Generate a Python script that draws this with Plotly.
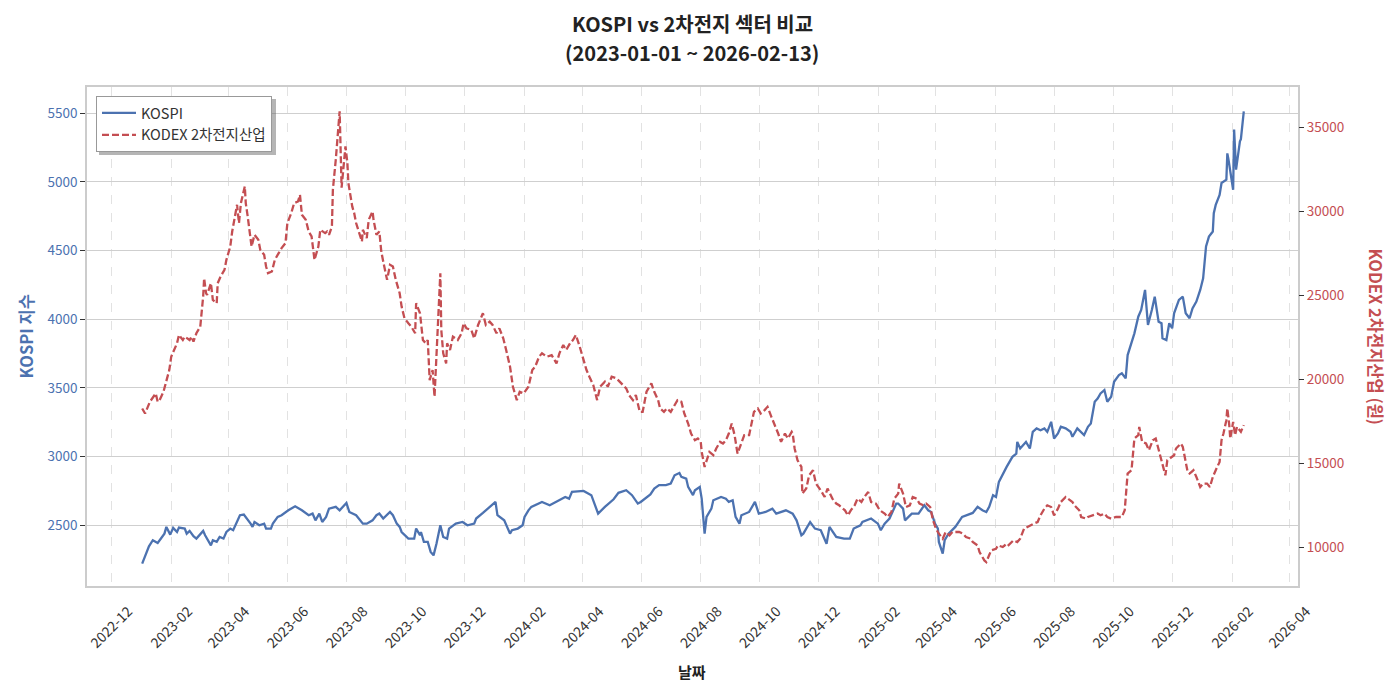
import plotly.graph_objects as go

# ---------------- data ----------------
kospi_dates = [
    "2023-01-02","2023-01-06","2023-01-09","2023-01-13","2023-01-18","2023-01-25","2023-01-27","2023-01-31",
    "2023-02-03","2023-02-07","2023-02-09","2023-02-15","2023-02-17","2023-02-20","2023-02-24","2023-02-27",
    "2023-03-06","2023-03-08","2023-03-10","2023-03-14","2023-03-16","2023-03-20","2023-03-23","2023-03-27",
    "2023-03-30","2023-04-03","2023-04-06","2023-04-10","2023-04-13","2023-04-17","2023-04-19","2023-04-24",
    "2023-04-26","2023-04-28","2023-05-03","2023-05-08","2023-05-10","2023-05-15","2023-05-17","2023-05-22",
    "2023-05-26","2023-06-02","2023-06-09","2023-06-16","2023-06-23","2023-06-27","2023-06-30","2023-07-04",
    "2023-07-07","2023-07-11","2023-07-14","2023-07-21","2023-07-25","2023-08-01","2023-08-04","2023-08-11",
    "2023-08-18","2023-08-22","2023-08-28","2023-08-30","2023-09-01","2023-09-04","2023-09-08","2023-09-15",
    "2023-09-18","2023-09-22","2023-09-25","2023-09-27","2023-10-04","2023-10-10","2023-10-12","2023-10-16",
    "2023-10-17","2023-10-20","2023-10-24","2023-10-27","2023-10-30","2023-11-02","2023-11-06","2023-11-09",
    "2023-11-13","2023-11-15","2023-11-22","2023-11-29","2023-12-04","2023-12-11","2023-12-13","2023-12-20",
    "2023-12-27","2024-01-02","2024-01-04","2024-01-11","2024-01-17","2024-01-19","2024-01-25","2024-01-30",
    "2024-02-01","2024-02-05","2024-02-08","2024-02-19","2024-02-27","2024-03-05","2024-03-14","2024-03-18",
    "2024-03-21","2024-04-02","2024-04-10","2024-04-17","2024-04-24","2024-05-03","2024-05-08","2024-05-16",
    "2024-05-22","2024-05-28","2024-05-31","2024-06-10","2024-06-14","2024-06-19","2024-06-26","2024-07-01",
    "2024-07-05","2024-07-10","2024-07-12","2024-07-17","2024-07-19","2024-07-24","2024-07-26","2024-07-31",
    "2024-08-02","2024-08-05","2024-08-07","2024-08-12","2024-08-14","2024-08-22","2024-08-27","2024-08-30",
    "2024-09-03","2024-09-06","2024-09-10","2024-09-12","2024-09-20","2024-09-26","2024-09-30","2024-10-07",
    "2024-10-14","2024-10-18","2024-10-28","2024-11-04","2024-11-08","2024-11-13","2024-11-15","2024-11-22",
    "2024-11-27","2024-12-03","2024-12-09","2024-12-12","2024-12-19","2024-12-27","2025-01-02","2025-01-06",
    "2025-01-13","2025-01-15","2025-01-24","2025-01-31","2025-02-03","2025-02-07","2025-02-12","2025-02-19",
    "2025-02-21","2025-02-26","2025-02-28","2025-03-07","2025-03-14","2025-03-20","2025-03-24","2025-03-27",
    "2025-03-31","2025-04-03","2025-04-04","2025-04-08","2025-04-10","2025-04-14","2025-04-21","2025-04-28",
    "2025-05-02","2025-05-09","2025-05-14","2025-05-19","2025-05-23","2025-05-26","2025-05-30","2025-06-02",
    "2025-06-05","2025-06-11","2025-06-13","2025-06-19","2025-06-23","2025-06-24","2025-06-27","2025-07-03",
    "2025-07-07","2025-07-10","2025-07-14","2025-07-18","2025-07-22","2025-07-25","2025-07-29","2025-08-01",
    "2025-08-05","2025-08-08","2025-08-13","2025-08-18","2025-08-20","2025-08-25","2025-08-29","2025-09-01",
    "2025-09-05","2025-09-08","2025-09-12","2025-09-15","2025-09-18","2025-09-22","2025-09-25","2025-09-29",
    "2025-10-02","2025-10-07","2025-10-10","2025-10-14","2025-10-16","2025-10-20","2025-10-23","2025-10-27",
    "2025-10-30","2025-11-03","2025-11-06","2025-11-10","2025-11-13","2025-11-17","2025-11-20","2025-11-21",
    "2025-11-25","2025-11-28","2025-12-01","2025-12-03","2025-12-08","2025-12-12","2025-12-15","2025-12-19",
    "2025-12-22","2025-12-26","2025-12-30","2026-01-02","2026-01-05","2026-01-08","2026-01-12","2026-01-13",
    "2026-01-15","2026-01-19","2026-01-21","2026-01-26","2026-01-27","2026-01-28","2026-02-02","2026-02-03",
    "2026-02-05","2026-02-09","2026-02-10","2026-02-13",
]
kospi_values = [
    2221,2294,2347,2391,2371,2439,2488,2432,
    2481,2451,2483,2476,2439,2459,2420,2403,
    2459,2427,2403,2354,2391,2379,2415,2403,
    2451,2476,2464,2524,2573,2578,2561,2512,
    2488,2524,2500,2512,2476,2476,2512,2561,
    2573,2609,2638,2609,2573,2585,2536,2585,
    2524,2561,2621,2634,2609,2663,2597,2573,
    2512,2512,2536,2553,2573,2585,2549,2597,
    2573,2512,2488,2451,2403,2403,2476,2427,
    2451,2379,2379,2306,2281,2366,2500,2415,
    2403,2476,2512,2524,2500,2512,2549,2590,
    2634,2670,2573,2536,2439,2464,2476,2500,
    2561,2609,2634,2670,2646,2670,2706,2694,
    2743,2750,2719,2585,2634,2689,2736,2755,
    2719,2658,2670,2725,2767,2792,2792,2804,
    2864,2881,2852,2840,2779,2719,2755,2779,
    2694,2439,2561,2621,2682,2706,2694,2670,
    2682,2561,2512,2573,2597,2670,2585,2597,
    2621,2585,2609,2585,2536,2427,2439,2524,
    2476,2464,2366,2488,2415,2403,2403,2476,
    2500,2524,2549,2512,2464,2512,2549,2658,
    2658,2621,2536,2585,2585,2646,2609,2597,
    2512,2476,2379,2294,2391,2439,2488,2561,
    2573,2590,2634,2609,2597,2634,2719,2706,
    2816,2901,2925,2998,3022,3107,3059,3107,
    3059,3180,3205,3192,3205,3180,3253,3132,
    3168,3217,3205,3180,3144,3205,3180,3156,
    3217,3241,3399,3423,3460,3484,3399,3435,
    3545,3593,3606,3569,3739,3824,3897,4018,
    4067,4213,3958,4067,4164,3982,3970,3861,
    3848,3970,3934,4043,4140,4164,4043,4007,
    4079,4128,4213,4298,4529,4601,4638,4772,
    4832,4905,4991,5015,5207,5170,4942,5380,
    5088,5294,5310,5513,
]

kodex_dates = [
    "2023-01-02","2023-01-05","2023-01-10","2023-01-16","2023-01-18","2023-01-20","2023-01-24","2023-01-26",
    "2023-01-30","2023-02-01","2023-02-03","2023-02-07","2023-02-09","2023-02-13","2023-02-15","2023-02-20",
    "2023-02-22","2023-02-24","2023-02-27","2023-03-03","2023-03-06","2023-03-07","2023-03-09","2023-03-10",
    "2023-03-14","2023-03-16","2023-03-20","2023-03-21","2023-03-24","2023-03-28","2023-03-30","2023-04-03",
    "2023-04-05","2023-04-07","2023-04-10","2023-04-12","2023-04-14","2023-04-18","2023-04-19","2023-04-21",
    "2023-04-25","2023-04-28","2023-05-02","2023-05-04","2023-05-08","2023-05-10","2023-05-12","2023-05-16",
    "2023-05-19","2023-05-23","2023-05-26","2023-05-30","2023-06-01","2023-06-05","2023-06-08","2023-06-12",
    "2023-06-14","2023-06-16","2023-06-20","2023-06-23","2023-06-26","2023-06-29","2023-07-03","2023-07-05",
    "2023-07-10","2023-07-12","2023-07-14","2023-07-17","2023-07-18","2023-07-21","2023-07-25","2023-07-27",
    "2023-07-31","2023-08-02","2023-08-03","2023-08-07","2023-08-09","2023-08-11","2023-08-14","2023-08-17",
    "2023-08-18","2023-08-22","2023-08-24","2023-08-28","2023-08-29","2023-09-01","2023-09-04","2023-09-06",
    "2023-09-08","2023-09-12","2023-09-15","2023-09-18","2023-09-21","2023-09-25","2023-09-27","2023-09-30",
    "2023-10-04","2023-10-07","2023-10-11","2023-10-12","2023-10-16","2023-10-19","2023-10-22","2023-10-24",
    "2023-10-26","2023-10-29","2023-10-31","2023-11-01","2023-11-03","2023-11-06","2023-11-07","2023-11-09",
    "2023-11-12","2023-11-13","2023-11-16","2023-11-19","2023-11-24","2023-11-28","2023-11-30","2023-12-03",
    "2023-12-08","2023-12-11","2023-12-15","2023-12-20","2023-12-23","2023-12-27","2023-12-30","2024-01-03",
    "2024-01-06","2024-01-10","2024-01-13","2024-01-17","2024-01-20","2024-01-24","2024-01-27","2024-01-31",
    "2024-02-05","2024-02-09","2024-02-12","2024-02-16","2024-02-19","2024-02-24","2024-02-29","2024-03-05",
    "2024-03-08","2024-03-12","2024-03-15","2024-03-19","2024-03-22","2024-03-25","2024-03-29","2024-04-01",
    "2024-04-05","2024-04-08","2024-04-12","2024-04-16","2024-04-19","2024-04-24","2024-04-27","2024-05-01",
    "2024-05-06","2024-05-11","2024-05-16","2024-05-19","2024-05-23","2024-05-26","2024-05-30","2024-06-02",
    "2024-06-06","2024-06-11","2024-06-14","2024-06-18","2024-06-20","2024-06-24","2024-06-27","2024-07-01",
    "2024-07-05","2024-07-08","2024-07-12","2024-07-15","2024-07-19","2024-07-22","2024-07-26","2024-07-29",
    "2024-08-01","2024-08-02","2024-08-05","2024-08-07","2024-08-10","2024-08-14","2024-08-17","2024-08-21",
    "2024-08-24","2024-08-27","2024-08-30","2024-09-02","2024-09-05","2024-09-08","2024-09-10","2024-09-15",
    "2024-09-20","2024-09-24","2024-09-25","2024-09-29","2024-10-02","2024-10-06","2024-10-09","2024-10-13",
    "2024-10-16","2024-10-20","2024-10-23","2024-10-27","2024-10-30","2024-11-03","2024-11-04","2024-11-06",
    "2024-11-09","2024-11-13","2024-11-14","2024-11-18","2024-11-21","2024-11-25","2024-11-28","2024-12-03",
    "2024-12-07","2024-12-10","2024-12-15","2024-12-19","2024-12-22","2024-12-28","2024-12-31","2025-01-03",
    "2025-01-07","2025-01-10","2025-01-14","2025-01-17","2025-01-21","2025-01-24","2025-01-29","2025-02-02",
    "2025-02-07","2025-02-10","2025-02-14","2025-02-17","2025-02-21","2025-02-22","2025-02-26","2025-03-01",
    "2025-03-05","2025-03-08","2025-03-12","2025-03-15","2025-03-19","2025-03-22","2025-03-26","2025-03-29",
    "2025-04-01","2025-04-04","2025-04-08","2025-04-11","2025-04-15","2025-04-18","2025-04-25","2025-04-29",
    "2025-05-02","2025-05-07","2025-05-09","2025-05-14","2025-05-16","2025-05-21","2025-05-23","2025-05-28",
    "2025-06-02","2025-06-04","2025-06-09","2025-06-11","2025-06-13","2025-06-18","2025-06-20","2025-06-24",
    "2025-06-27","2025-07-01","2025-07-04","2025-07-08","2025-07-11","2025-07-15","2025-07-18","2025-07-22",
    "2025-07-25","2025-07-29","2025-08-01","2025-08-05","2025-08-08","2025-08-13","2025-08-18","2025-08-20",
    "2025-08-22","2025-08-27","2025-08-29","2025-09-03","2025-09-05","2025-09-10","2025-09-15","2025-09-18",
    "2025-09-22","2025-09-25","2025-09-29","2025-10-04","2025-10-10","2025-10-13","2025-10-16","2025-10-20",
    "2025-10-23","2025-10-27","2025-10-28","2025-10-31","2025-11-04","2025-11-07","2025-11-11","2025-11-14",
    "2025-11-18","2025-11-21","2025-11-24","2025-11-26","2025-11-30","2025-12-03","2025-12-05","2025-12-10",
    "2025-12-12","2025-12-17","2025-12-19","2025-12-23","2025-12-26","2025-12-30","2026-01-02","2026-01-06",
    "2026-01-09","2026-01-12","2026-01-15","2026-01-19","2026-01-21","2026-01-23","2026-01-26","2026-01-27",
    "2026-01-29","2026-01-30","2026-02-02","2026-02-04","2026-02-06","2026-02-10","2026-02-13",
]
kodex_values = [
    18274,17975,18672,19170,18672,18771,19269,19766,
    20562,21357,21655,22154,22650,22352,22551,22352,
    22551,22253,22752,23145,24935,26033,25138,25037,
    25735,24739,24541,25735,26129,26528,27125,27919,
    28814,29512,30407,29315,30508,31500,30508,29710,
    27919,28619,28321,27722,27424,26727,26331,26429,
    27125,27525,27823,28121,29315,29911,30508,30604,
    31002,29810,29512,28814,28517,27125,27919,28915,
    28718,28814,28619,29112,31302,33094,35974,31422,
    33886,32896,31700,30306,29911,29315,28814,28217,
    28915,28420,29512,30008,29512,28617,28814,27622,
    27025,25932,26827,26727,25932,25138,24341,23645,
    23348,23147,22752,24541,23944,22352,22154,22352,
    19965,20562,18970,20364,22752,26331,22949,21558,
    20961,22154,21755,22549,22352,22752,23348,23049,
    22949,22453,23247,23944,23247,23445,23247,22752,
    23049,22453,21755,20760,19565,18771,19269,19170,
    19565,20562,20760,21357,21558,21357,21456,20961,
    21558,22053,21755,22154,22352,22650,21952,21357,
    20562,20162,19667,18771,19565,19865,19565,20162,
    20066,19768,19470,19070,18771,19070,18073,18073,
    19268,19765,19268,18771,18274,18073,18274,18073,
    18473,18771,18672,17975,17378,16781,16385,16484,
    16283,15687,14792,15191,15687,15490,15889,16283,
    16188,16385,16781,17378,16683,15591,15889,16683,
    16683,17775,18073,18274,17975,18175,18372,17775,
    17378,16781,16283,16781,16484,16880,16781,15889,
    15191,14792,13204,13503,14296,14594,13801,13401,
    13001,13503,12906,12608,12506,12208,11909,12208,
    12506,12906,12703,13001,13300,12703,12608,12208,
    12011,11808,12106,12906,13204,13801,13204,12405,
    12506,13001,12906,12608,12506,12608,12405,11611,
    11116,10815,10517,10915,10716,10915,10915,10815,
    10617,10517,10318,10119,9721,9224,9125,9821,
    9920,10119,10020,10119,10020,10318,10418,10318,
    10517,11114,11213,11313,11414,11510,11909,12309,
    12506,12405,11909,12309,12703,13001,12804,12703,
    12506,12208,11810,11713,11810,11909,12011,11909,
    12011,11810,11713,11810,11810,12208,14398,14594,
    16484,16683,17178,16283,16188,15788,16385,16484,
    15591,14792,14296,15191,15389,15490,15889,16188,
    15984,14493,14398,14594,14195,13598,13801,13801,
    13598,14195,14594,15090,16385,16781,17578,18276,
    17280,16484,17478,16683,17178,16883,17280,
]

left_ticks = [2500, 3000, 3500, 4000, 4500, 5000, 5500]
right_ticks = [10000, 15000, 20000, 25000, 30000, 35000]
right_ticktext = [str(v) for v in right_ticks]

title_lines = ["KOSPI vs 2차전지 섹터 비교", "(2023-01-01 ~ 2026-02-13)"]

# ---------------- style ----------------
FONT = "Noto Sans CJK KR"
BLUE = "#4C72B0"
RED = "#C44E52"
W, H = 1400, 700
L, R, T, B = 87, 102, 87, 114
PW, PH = W - L - R, H - T - B


def px_x(px):
    return (px - L) / PW


def px_y(py):
    return 1 - (py - T) / PH


fig = go.Figure()
fig.add_trace(go.Scatter(
    x=kospi_dates, y=kospi_values, name="KOSPI", mode="lines",
    line=dict(color=BLUE, width=2.3), yaxis="y"))
fig.add_trace(go.Scatter(
    x=kodex_dates, y=kodex_values, name="KODEX 2차전지산업", mode="lines",
    line=dict(color=RED, width=2.3, dash="7px,3px"), yaxis="y2"))

annotations = [
    dict(text="<b>%s</b>" % title_lines[0], xref="paper", yref="paper",
         x=px_x(692), y=px_y(23.5), showarrow=False, xanchor="center", yanchor="middle",
         font=dict(family=FONT, size=20, color="#222222")),
    dict(text="<b>%s</b>" % title_lines[1], xref="paper", yref="paper",
         x=px_x(692), y=px_y(53), showarrow=False, xanchor="center", yanchor="middle",
         font=dict(family=FONT, size=20, color="#222222")),
    dict(text="<b>KOSPI 지수</b>", xref="paper", yref="paper",
         x=px_x(25), y=0.5, textangle=-90, showarrow=False,
         xanchor="center", yanchor="middle",
         font=dict(family=FONT, size=16.5, color=BLUE)),
    dict(text="<b>KODEX 2차전지산업 (원)</b>", xref="paper", yref="paper",
         x=px_x(1376), y=0.5, textangle=90, showarrow=False,
         xanchor="center", yanchor="middle",
         font=dict(family=FONT, size=16.5, color=RED)),
    dict(text="<b>날짜</b>", xref="paper", yref="paper",
         x=px_x(692), y=px_y(671), showarrow=False,
         xanchor="center", yanchor="middle",
         font=dict(family=FONT, size=15, color="#222222")),
]

fig.update_layout(
    width=W, height=H,
    margin=dict(l=L, r=R, t=T, b=B),
    paper_bgcolor="white", plot_bgcolor="white",
    font=dict(family=FONT, size=13, color="#333333"),
    xaxis=dict(
        type="date", range=["2022-11-06", "2026-04-10"],
        tick0="2022-12-01", dtick="M2", tickformat="%Y-%m", tickangle=-45,
        ticks="", ticklabelshift=17, ticklabelstandoff=10,
        tickfont=dict(size=14, color="#333333"),
        showgrid=True, gridcolor="#e2e2e2", griddash="dash", gridwidth=1,
        showline=True, linecolor="#cccccc", linewidth=1.5, mirror=True,
        zeroline=False),
    yaxis=dict(
        range=[2058, 5690], tickvals=left_ticks,
        ticks="outside", ticklen=5, tickcolor="#333333",
        tickfont=dict(size=13.5, color=BLUE),
        showgrid=True, gridcolor="#cfcfcf", gridwidth=1,
        showline=True, linecolor="#cccccc", linewidth=1.5, mirror=True,
        zeroline=False),
    yaxis2=dict(
        range=[7700, 37420], tickvals=right_ticks, ticktext=right_ticktext,
        overlaying="y", side="right",
        ticks="outside", ticklen=5, tickcolor="#333333",
        tickfont=dict(size=13.5, color=RED),
        showgrid=False, zeroline=False, showline=False),
    legend=dict(
        x=px_x(96), y=px_y(96), xanchor="left", yanchor="top",
        bgcolor="white", bordercolor="#999999", borderwidth=1,
        font=dict(family=FONT, size=14.5, color="#333333"),
        tracegroupgap=4, itemwidth=34),
    showlegend=True,
    shapes=[dict(
        type="rect", xref="paper", yref="paper",
        x0=px_x(99), x1=px_x(276), y0=px_y(155), y1=px_y(99),
        fillcolor="rgba(90,90,90,0.45)", line=dict(width=0), layer="above")],
    annotations=annotations,
)

fig.write_html("out.html")
